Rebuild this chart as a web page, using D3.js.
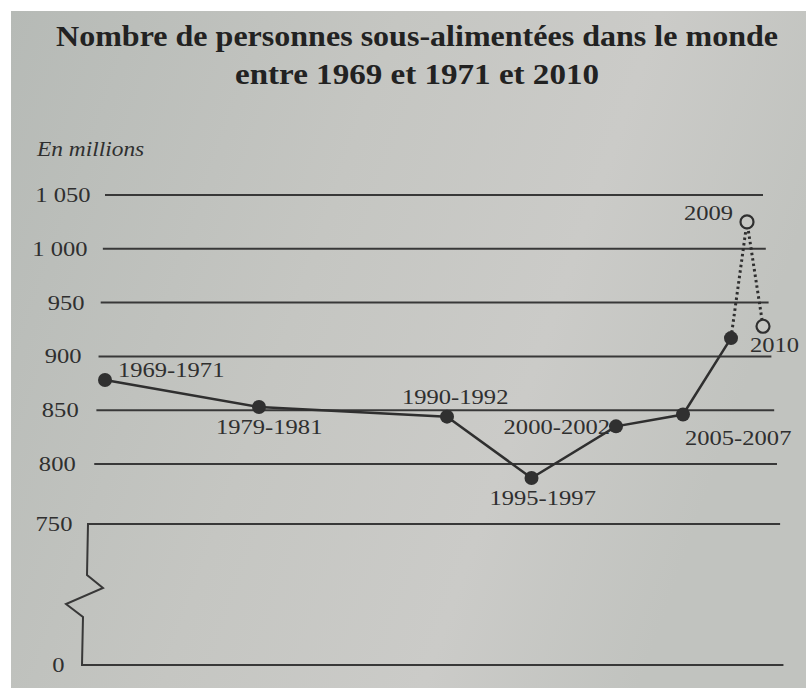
<!DOCTYPE html>
<html>
<head>
<meta charset="utf-8">
<script src="https://cdn.jsdelivr.net/npm/d3@7"></script>
<style>
  body { margin: 0; background: #fff; }
  svg { display: block; }
</style>
</head>
<body>
<script>
// values (millions of people)
const periods = ["1969-1971", "1979-1981", "1990-1992", "1995-1997", "2000-2002", "2005-2007", "2008", "2009", "2010"];
const midYears = [1970, 1980, 1991, 1996, 2001, 2006, 2008, 2009, 2010];
const millions = [878, 853, 844, 787, 835, 846, 917, 1025, 928];
const estimates = ["2009", "2010"];           // open circles, dotted line
const unlabelled = ["2008"];
const yTicks = [800, 850, 900, 950, 1000, 1050];
const lowTicks = [0, 750];
const titleLines = ["Nombre de personnes sous-alimentées dans le monde", "entre 1969 et 1971 et 2010"];

const W = 806, H = 688;
const SX = 1.17;   // the photo is a bit wider than plain Times
const ink = "#2f2f2f";
const paper = "#c7c8c4";
const serif = "'Liberation Serif', 'Times New Roman', serif";

const data = periods.map((p, i) => ({ period: p, year: midYears[i], value: millions[i], est: estimates.includes(p) }));

const svg = d3.select("body").append("svg")
    .attr("width", W)
    .attr("height", H);

const grad = svg.append("defs").append("linearGradient")
    .attr("id", "paper")
    .attr("x1", "0").attr("x2", "1").attr("y1", "0").attr("y2", "0.3");
grad.append("stop").attr("offset", "0").attr("stop-color", "#b6bab6");
grad.append("stop").attr("offset", "0.45").attr("stop-color", "#c5c6c2");
grad.append("stop").attr("offset", "0.75").attr("stop-color", "#cbcbc8");
grad.append("stop").attr("offset", "1").attr("stop-color", "#c1c3bf");

svg.append("rect")
    .attr("x", 11).attr("y", 11)
    .attr("width", W - 11).attr("height", H - 11)
    .attr("fill", "url(#paper)");

// the x spacing of the print is not even, so a piecewise scale
const x = d3.scaleLinear()
    .domain([1970, 1980, 1991, 2001, 2006, 2008, 2010])
    .range([105, 259, 447, 616, 683, 731, 763]);
const y = d3.scaleLinear().domain([800, 1050]).range([464, 195]);
const yLow = d3.scaleLinear().domain([0, 750]).range([665, 524]);

// slight perspective of the photo
const gridLeft = yy => 105 - (yy - 195) * 0.04;
const gridRight = yy => 763 + (yy - 195) * 0.052;
const labelRight = yy => 90.5 - (yy - 195) * 0.055;

function stretched(sel, px, py) {
    return sel.attr("transform", `translate(${px},${py}) scale(${SX},1)`);
}

// title
svg.selectAll("text.title")
    .data(titleLines)
    .join("text")
    .attr("class", "title")
    .attr("x", 417)
    .attr("y", (d, i) => 46 + i * 38)
    .attr("text-anchor", "middle")
    .attr("font-family", serif)
    .attr("font-weight", "bold")
    .attr("font-size", 29)
    .attr("textLength", (d, i) => i === 0 ? 722 : 364)
    .attr("lengthAdjust", "spacingAndGlyphs")
    .attr("fill", "#222")
    .text(d => d);

stretched(svg.append("text"), 37, 156)
    .attr("font-family", serif)
    .attr("font-style", "italic")
    .attr("font-size", 20)
    .attr("fill", ink)
    .text("En millions");

// grid lines
svg.append("g")
    .selectAll("line")
    .data(yTicks)
    .join("line")
    .attr("x1", d => gridLeft(y(d)))
    .attr("x2", d => gridRight(y(d)))
    .attr("y1", d => y(d))
    .attr("y2", d => y(d))
    .attr("stroke", "#383838")
    .attr("stroke-width", 2);

// broken axis: 750 line, zigzag, 0 line
const y750 = yLow(750), y0 = yLow(0);
const brk = d3.path();
brk.moveTo(gridRight(y750), y750);
brk.lineTo(88, y750);
brk.lineTo(87, y750 + 51);
brk.lineTo(103, y750 + 64);
brk.lineTo(66, y750 + 80);
brk.lineTo(83, y750 + 93);
brk.lineTo(82, y0);
brk.lineTo(gridRight(y0) - 4, y0);
svg.append("path")
    .attr("d", brk.toString())
    .attr("fill", "none")
    .attr("stroke", "#383838")
    .attr("stroke-width", 2)
    .attr("stroke-linejoin", "miter");

// tick labels
const fmt = d3.formatLocale({ decimal: ",", thousands: " ", grouping: [3], currency: ["", " €"] }).format(",");
const tickData = yTicks.map(t => ({ t, yy: y(t) })).concat(lowTicks.map(t => ({ t, yy: yLow(t) })));
svg.append("g")
    .selectAll("text")
    .data(tickData)
    .join("text")
    .attr("transform", d => `translate(${labelRight(d.yy)},${d.yy + 7}) scale(${SX},1)`)
    .attr("text-anchor", "end")
    .attr("font-family", serif)
    .attr("font-size", 21)
    .attr("fill", ink)
    .text(d => fmt(d.t));

// series
const line = d3.line().x(d => x(d.year)).y(d => y(d.value));
const solid = data.filter(d => !d.est);
const lastSolid = solid[solid.length - 1];
const dotted = [lastSolid].concat(data.filter(d => d.est));

svg.append("path")
    .datum(dotted)
    .attr("d", line)
    .attr("fill", "none")
    .attr("stroke", ink)
    .attr("stroke-width", 3)
    .attr("stroke-dasharray", "2.5,3");

svg.append("path")
    .datum(solid)
    .attr("d", line)
    .attr("fill", "none")
    .attr("stroke", ink)
    .attr("stroke-width", 2.5);

svg.append("g")
    .selectAll("circle")
    .data(data)
    .join("circle")
    .attr("cx", d => x(d.year))
    .attr("cy", d => y(d.value))
    .attr("r", d => d.est ? 6.5 : 7)
    .attr("fill", d => d.est ? paper : "#303030")
    .attr("stroke", d => d.est ? ink : "none")
    .attr("stroke-width", 2.2);

// point labels, placed as in the print
const labelPlace = {
    "1969-1971": { dx: 13, dy: -3, anchor: "start" },
    "1979-1981": { dx: -43, dy: 27, anchor: "start" },
    "1990-1992": { dx: -45, dy: -13, anchor: "start" },
    "1995-1997": { dx: -42, dy: 27, anchor: "start" },
    "2000-2002": { dx: -6, dy: 8, anchor: "end" },
    "2005-2007": { dx: 2, dy: 30, anchor: "start" },
    "2009": { dx: -14, dy: -2, anchor: "end" },
    "2010": { dx: -13, dy: 26, anchor: "start" }
};

svg.append("g")
    .selectAll("text")
    .data(data.filter(d => !unlabelled.includes(d.period)))
    .join("text")
    .attr("transform", d => {
        const p = labelPlace[d.period];
        return `translate(${x(d.year) + p.dx},${y(d.value) + p.dy}) scale(${SX},1)`;
    })
    .attr("text-anchor", d => labelPlace[d.period].anchor)
    .attr("font-family", serif)
    .attr("font-size", 21)
    .attr("fill", ink)
    .text(d => d.period);
</script>
</body>
</html>
